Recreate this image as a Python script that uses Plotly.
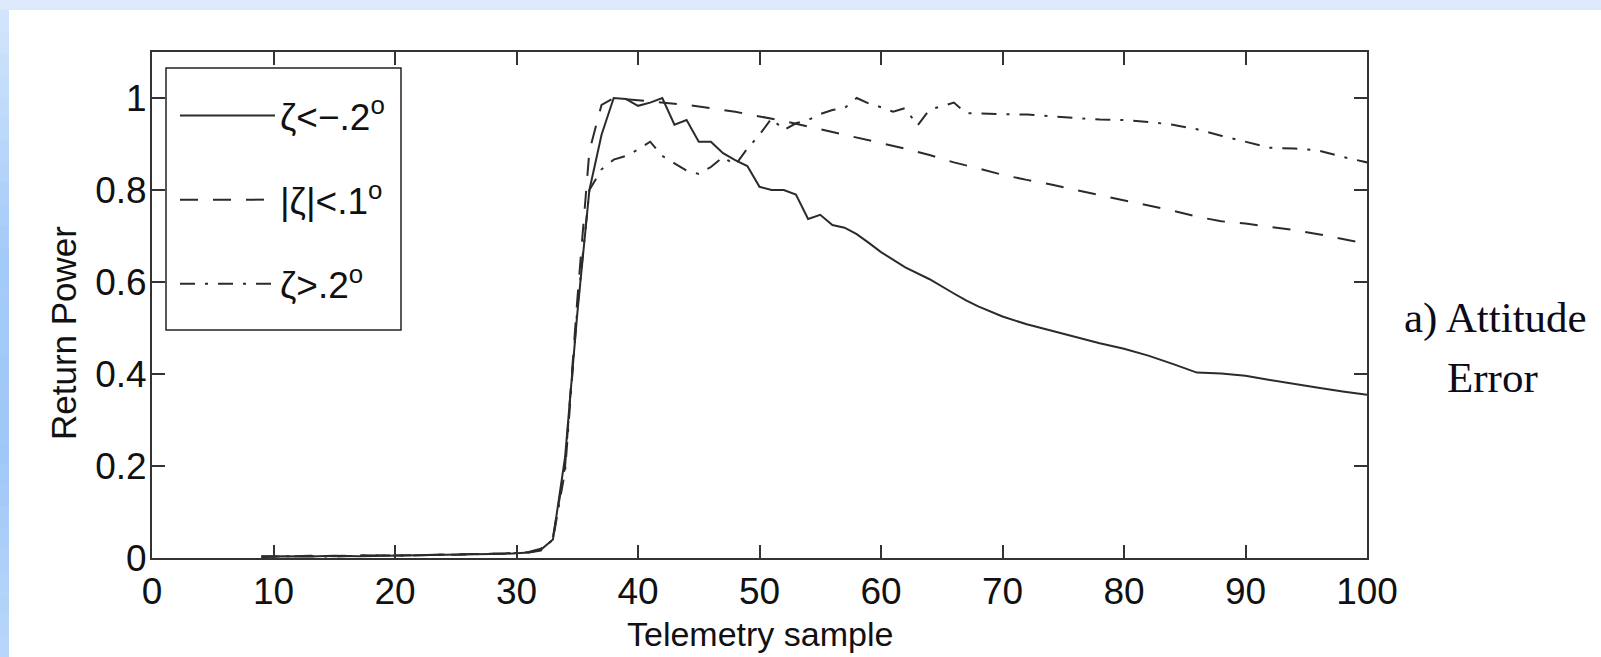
import plotly.graph_objects as go

# ---------------- data ----------------
x_neg = [9, 11, 13, 15, 17, 19, 21, 23, 25, 27, 29, 31, 32, 33, 34, 35, 36, 37, 38, 39, 40, 41, 42, 43, 44,
         45, 46, 47, 48, 49, 50, 51, 52, 53, 54, 55, 56, 57, 58, 59, 60, 62, 64, 66, 67, 68, 70, 72, 74, 76,
         78, 80, 82, 84, 86, 88, 90, 92, 94, 96, 98, 100]
y_neg = [0.003, 0.004, 0.003, 0.005, 0.004, 0.005, 0.006, 0.006, 0.007, 0.008, 0.009, 0.012, 0.018, 0.04,
         0.22, 0.53, 0.80, 0.92, 1.0, 0.998, 0.983, 0.99, 1.0, 0.942, 0.952, 0.905, 0.905, 0.88, 0.865,
         0.852, 0.807, 0.80, 0.80, 0.79, 0.737, 0.746, 0.724, 0.718, 0.704, 0.685, 0.665, 0.632, 0.606,
         0.575, 0.56, 0.547, 0.525, 0.508, 0.494, 0.48, 0.467, 0.455, 0.44, 0.422, 0.403, 0.401, 0.396,
         0.387, 0.378, 0.37, 0.362, 0.355]

x_mid = [9, 11, 13, 15, 17, 19, 21, 23, 25, 27, 29, 31, 32, 33, 34, 35, 36, 37, 38, 40, 42, 44, 46, 48, 50,
         52, 54, 56, 58, 60, 62, 64, 66, 68, 70, 72, 74, 76, 78, 80, 82, 84, 86, 88, 90, 92, 94, 96, 98, 100]
y_mid = [0.004, 0.003, 0.005, 0.004, 0.006, 0.005, 0.006, 0.007, 0.008, 0.009, 0.01, 0.013, 0.02, 0.045,
         0.20, 0.56, 0.885, 0.985, 1.0, 0.995, 0.99, 0.985, 0.978, 0.97, 0.96, 0.95, 0.938, 0.926, 0.914,
         0.903, 0.89, 0.876, 0.86, 0.847, 0.833, 0.822, 0.812, 0.80, 0.789, 0.778, 0.767, 0.755, 0.742,
         0.732, 0.727, 0.72, 0.713, 0.704, 0.694, 0.683]

x_pos = [9, 11, 13, 15, 17, 19, 21, 23, 25, 27, 29, 31, 32, 33, 34, 35, 36, 37, 38, 39, 40, 41, 42, 43, 44,
         45, 46, 47, 48, 49, 50, 51, 52, 53, 54, 55, 56, 57, 58, 59, 60, 61, 62, 63, 64, 65, 66, 67, 68, 70,
         72, 74, 76, 78, 80, 82, 84, 86, 88, 90, 92, 94, 96, 98, 100]
y_pos = [0.002, 0.004, 0.004, 0.003, 0.005, 0.006, 0.005, 0.007, 0.007, 0.008, 0.01, 0.012, 0.016, 0.04,
         0.19, 0.54, 0.80, 0.845, 0.866, 0.874, 0.888, 0.905, 0.874, 0.858, 0.842, 0.835, 0.85, 0.872,
         0.854, 0.89, 0.92, 0.956, 0.93, 0.945, 0.952, 0.965, 0.974, 0.978, 1.0, 0.988, 0.98, 0.97, 0.978,
         0.94, 0.975, 0.982, 0.99, 0.967, 0.966, 0.965, 0.964, 0.96, 0.957, 0.953, 0.952, 0.948, 0.942,
         0.932, 0.918, 0.905, 0.892, 0.89, 0.886, 0.872, 0.86]

series_names = ["ζ&lt;−.2<sup>o</sup>", "|ζ|&lt;.1<sup>o</sup>", "ζ&gt;.2<sup>o</sup>"]
x_ticks = [0, 10, 20, 30, 40, 50, 60, 70, 80, 90, 100]
y_ticks = [0, 0.2, 0.4, 0.6, 0.8, 1]
y_tick_text = ["0", "0.2", "0.4", "0.6", "0.8", "1"]

# ---------------- figure ----------------
W, H = 1601, 657
L, R, T, B = 152, 1367, 52, 558

def px(xp):
    return (xp - L) / (R - L)

def py(yp):
    return (B - yp) / (B - T)

LINE = "#2b2b2b"
fig = go.Figure()
styles = [("solid", x_neg, y_neg), ("18px,15px", x_mid, y_mid), ("15px,10px,3px,10px", x_pos, y_pos)]
for i, (dash, xs, ys) in enumerate(styles):
    fig.add_trace(go.Scatter(x=xs, y=ys, mode="lines", name=series_names[i],
                             legendgroup=f"g{i}",
                             line=dict(color=LINE, width=2, dash=dash)))

tickfont = dict(family="Liberation Sans, Arial", size=37, color="#111")
axis_common = dict(showline=True, mirror="ticks", linecolor="#333", linewidth=2,
                   ticks="inside", ticklen=13, tickwidth=1.5, tickcolor="#333",
                   showgrid=False, zeroline=False, tickfont=tickfont)

shapes = []
# blue slide frame
shapes.append(dict(type="rect", xref="paper", yref="paper", x0=px(0), x1=px(W), y0=py(10), y1=py(0),
                   fillcolor="#dde9fb", line=dict(width=0), layer="below"))
stops = [(10, (211, 229, 251)), (250, (164, 203, 248)), (450, (159, 199, 247)), (657, (185, 215, 249))]
nb = 30
for k in range(nb):
    y0p = 10 + (H - 10) * k / nb
    y1p = 10 + (H - 10) * (k + 1) / nb
    ym = (y0p + y1p) / 2
    for (a, ca), (b, cb) in zip(stops[:-1], stops[1:]):
        if a <= ym <= b:
            t = (ym - a) / (b - a)
            col = tuple(round(ca[j] + (cb[j] - ca[j]) * t) for j in range(3))
            break
    shapes.append(dict(type="rect", xref="paper", yref="paper", x0=px(0), x1=px(9),
                       y0=py(y1p + 0.5), y1=py(y0p),
                       fillcolor="rgb(%d,%d,%d)" % col, line=dict(width=0), layer="below"))
# legend box
shapes.append(dict(type="rect", xref="paper", yref="paper", x0=px(166), x1=px(401), y0=py(330), y1=py(68),
                   fillcolor="white", line=dict(color="#222", width=1.5), layer="above"))

annotations = [
    dict(text="Return Power", xref="paper", yref="paper", x=px(63), y=py(333), textangle=-90,
         showarrow=False, xanchor="center", yanchor="middle",
         font=dict(family="Liberation Sans, Arial", size=35, color="#111")),
    dict(text="Telemetry sample", xref="paper", yref="paper", x=px(760), y=py(634),
         showarrow=False, xanchor="center", yanchor="middle",
         font=dict(family="Liberation Sans, Arial", size=34, color="#111")),
    dict(text="a) Attitude", xref="paper", yref="paper", x=px(1495), y=py(318),
         showarrow=False, xanchor="center", yanchor="middle",
         font=dict(family="Liberation Serif, Times New Roman", size=43, color="#0b0b1a")),
    dict(text="Error", xref="paper", yref="paper", x=px(1492), y=py(377),
         showarrow=False, xanchor="center", yanchor="middle",
         font=dict(family="Liberation Serif, Times New Roman", size=43, color="#0b0b1a")),
]

fig.update_layout(
    width=W, height=H,
    margin=dict(l=L, r=W - R, t=T, b=H - B, pad=0),
    paper_bgcolor="white", plot_bgcolor="white",
    showlegend=True,
    legend=dict(x=px(175), y=py(85), xanchor="left", yanchor="top",
                bgcolor="rgba(0,0,0,0)", borderwidth=0,
                traceorder="grouped", tracegroupgap=33, itemwidth=95,
                font=dict(family="Liberation Sans, Arial", size=37, color="#111")),
    xaxis=dict(range=[0, 100], tickvals=x_ticks, **axis_common),
    yaxis=dict(range=[0, 1.1], tickvals=y_ticks, ticktext=y_tick_text,
               ticklabelstandoff=-4, **axis_common),
    shapes=shapes, annotations=annotations,
)

fig.write_html("out.html")
